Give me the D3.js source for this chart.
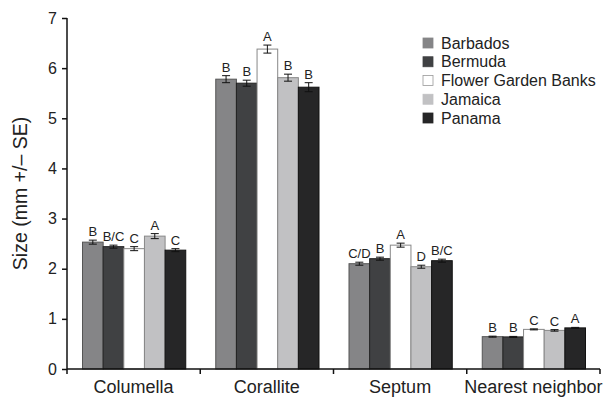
<!DOCTYPE html>
<html>
<head>
<meta charset="utf-8">
<script src="https://cdn.jsdelivr.net/npm/d3@7"></script>
<style>
  body { margin: 0; background: #fff; }
  text { font-family: "Liberation Sans", Arial, sans-serif; fill: #222; }
</style>
</head>
<body>
<svg id="chart" width="608" height="398"></svg>
<script>
var categories = ["Columella", "Corallite", "Septum", "Nearest neighbor"];
var sites = ["Barbados", "Bermuda", "Flower Garden Banks", "Jamaica", "Panama"];
var colors = ["#858587", "#404143", "#ffffff", "#c1c1c3", "#262627"];
var strokes = ["#555", "#222", "#888", "#888", "#111"];

// means per category, in site order
var barbados = [2.53, 5.78, 2.10, 0.645];
var bermuda  = [2.44, 5.70, 2.20, 0.64];
var fgb      = [2.40, 6.38, 2.47, 0.79];
var jamaica  = [2.65, 5.81, 2.04, 0.77];
var panama   = [2.37, 5.62, 2.16, 0.82];

var errBarbados = [0.04, 0.07, 0.03, 0.01];
var errBermuda  = [0.03, 0.06, 0.03, 0.01];
var errFgb      = [0.04, 0.08, 0.04, 0.01];
var errJamaica  = [0.05, 0.07, 0.03, 0.015];
var errPanama   = [0.03, 0.09, 0.03, 0.01];

var lblBarbados = ["B", "B", "C/D", "B"];
var lblBermuda  = ["B/C", "B", "B", "B"];
var lblFgb      = ["C", "A", "A", "C"];
var lblJamaica  = ["A", "B", "D", "C"];
var lblPanama   = ["C", "B", "B/C", "A"];

var yTicks = [0, 1, 2, 3, 4, 5, 6, 7];

var means = [barbados, bermuda, fgb, jamaica, panama];
var errs = [errBarbados, errBermuda, errFgb, errJamaica, errPanama];
var lbls = [lblBarbados, lblBermuda, lblFgb, lblJamaica, lblPanama];

var svg = d3.select("#chart");
var pLeft = 67, pRight = 600, pTop = 18, pBottom = 369;

var x0 = d3.scaleBand().domain(categories).range([pLeft, pRight]).paddingInner(0).paddingOuter(0);
var x1 = d3.scaleBand().domain(sites).range([15.5, x0.bandwidth() - 14.5]).padding(0);
var y = d3.scaleLinear().domain([0, 7]).range([pBottom, pTop]);

var rows = [];
categories.forEach(function(c, ci) {
  sites.forEach(function(s, si) {
    rows.push({cat: c, site: s, si: si, v: means[si][ci], e: errs[si][ci], l: lbls[si][ci]});
  });
});

function cx(d) { return x0(d.cat) + x1(d.site) + x1.bandwidth() / 2; }

var g = svg.append("g");
g.selectAll("rect.bar").data(rows).enter().append("rect")
  .attr("class", "bar")
  .attr("x", function(d) { return x0(d.cat) + x1(d.site); })
  .attr("y", function(d) { return y(d.v); })
  .attr("width", x1.bandwidth())
  .attr("height", function(d) { return y(0) - y(d.v); })
  .attr("fill", function(d) { return colors[d.si]; })
  .attr("stroke", function(d) { return strokes[d.si]; })
  .attr("stroke-width", 1);

// error bars
var eb = g.selectAll("g.err").data(rows).enter().append("g")
  .attr("stroke", "#111").attr("stroke-width", 1);
eb.append("line")
  .attr("x1", cx).attr("x2", cx)
  .attr("y1", function(d) { return y(d.v + d.e); })
  .attr("y2", function(d) { return y(d.v - d.e); });
eb.append("line")
  .attr("x1", function(d) { return cx(d) - 4; })
  .attr("x2", function(d) { return cx(d) + 4; })
  .attr("y1", function(d) { return y(d.v + d.e); })
  .attr("y2", function(d) { return y(d.v + d.e); });
eb.append("line")
  .attr("x1", function(d) { return cx(d) - 4; })
  .attr("x2", function(d) { return cx(d) + 4; })
  .attr("y1", function(d) { return y(d.v - d.e); })
  .attr("y2", function(d) { return y(d.v - d.e); });

// letters
g.selectAll("text.lbl").data(rows).enter().append("text")
  .attr("x", cx)
  .attr("y", function(d) { return y(d.v + d.e) - 4; })
  .attr("text-anchor", "middle")
  .style("font-size", "13px")
  .text(function(d) { return d.l; });

// y axis
var yAxis = svg.append("g").attr("transform", "translate(" + pLeft + ",0)")
  .call(d3.axisLeft(y).tickValues(yTicks).tickSize(5).tickFormat(d3.format("d")));
yAxis.select(".domain").attr("stroke", "#111").attr("stroke-width", 1.5).attr("d", "M0," + pTop + "V" + pBottom);
yAxis.selectAll(".tick line").attr("stroke", "#111").attr("stroke-width", 1.5);
yAxis.selectAll(".tick text").style("font-size", "16px").attr("x", -10).attr("fill", "#222");

// x axis
var xAxis = svg.append("g").attr("transform", "translate(0," + pBottom + ")");
xAxis.append("line").attr("x1", pLeft).attr("x2", pRight).attr("stroke", "#111").attr("stroke-width", 1.5);
xAxis.selectAll("line.tk").data(d3.range(categories.length + 1)).enter().append("line")
  .attr("x1", function(i) { return pLeft + i * x0.bandwidth(); })
  .attr("x2", function(i) { return pLeft + i * x0.bandwidth(); })
  .attr("y1", 0).attr("y2", 5).attr("stroke", "#111").attr("stroke-width", 1.5);
xAxis.selectAll("text").data(categories).enter().append("text")
  .attr("x", function(d) { return x0(d) + x0.bandwidth() / 2; })
  .attr("y", 24)
  .attr("text-anchor", "middle")
  .style("font-size", "18px")
  .text(function(d) { return d; });

svg.append("text")
  .attr("transform", "translate(27," + (y(3.5)) + ") rotate(-90)")
  .attr("text-anchor", "middle")
  .style("font-size", "19.5px")
  .text("Size (mm +/\u2013 SE)");

// legend
var lg = svg.append("g").attr("transform", "translate(423,38)");
var li = lg.selectAll("g").data(sites).enter().append("g")
  .attr("transform", function(d, i) { return "translate(0," + (i * 18.75) + ")"; });
li.append("rect").attr("width", 10).attr("height", 10)
  .attr("fill", function(d, i) { return colors[i]; })
  .attr("stroke", function(d, i) { return i === 2 ? "#999" : colors[i]; })
  .attr("stroke-width", 0.8);
li.append("text").attr("x", 18).attr("y", 10.5).style("font-size", "16px")
  .text(function(d) { return d; });
</script>
</body>
</html>
